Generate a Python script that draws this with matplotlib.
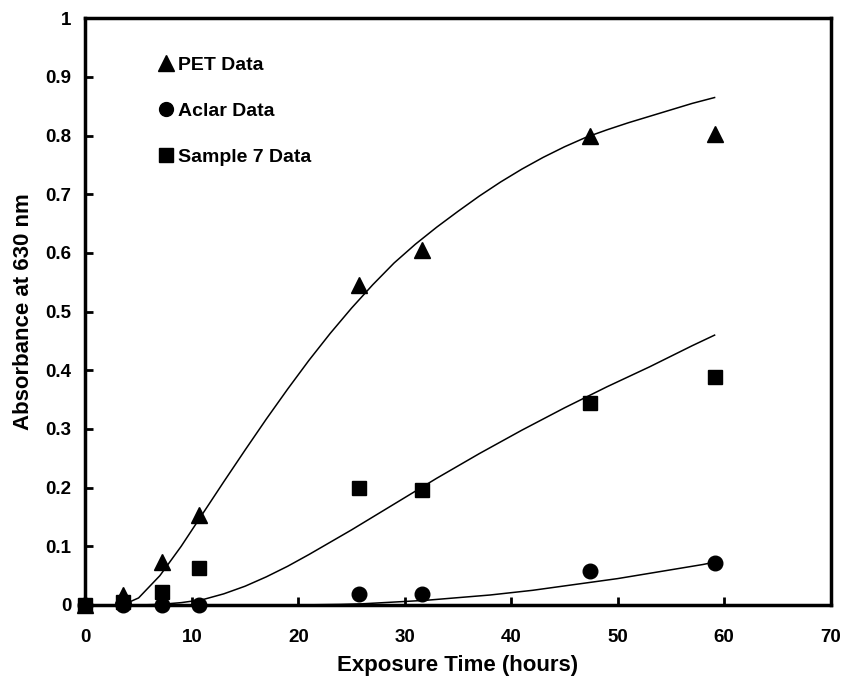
import matplotlib.pyplot as plt
import numpy as np

plt.rcParams['font.family'] = ['Liberation Sans', 'DejaVu Sans']
plt.rcParams['font.weight'] = 'bold'

# measured data (exposure time in hours, absorbance at 630 nm)
t = [0, 3.5, 7.2, 10.7, 25.7, 31.6, 47.4, 59.1]
pet = [0, 0.017, 0.073, 0.153, 0.545, 0.605, 0.80, 0.802]
aclar = [0, 0, 0, 0, 0.019, 0.018, 0.058, 0.071]
sample7 = [0, 0.005, 0.022, 0.063, 0.199, 0.196, 0.344, 0.388]

# fitted curves
pet_fit_t = [3.5, 5, 7, 9, 11, 13, 15, 17, 19, 21, 23, 25, 27, 29, 31, 33, 35, 37, 39,
             41, 43, 45, 47, 49, 51, 53, 55, 57, 59.1]
pet_fit = [0, 0.012, 0.050, 0.100, 0.155, 0.210, 0.264, 0.317, 0.368, 0.417, 0.463, 0.506,
           0.546, 0.583, 0.615, 0.644, 0.671, 0.697, 0.721, 0.743, 0.763, 0.781, 0.797,
           0.810, 0.822, 0.833, 0.844, 0.855, 0.865]
s7_fit_t = [5, 7, 9, 11, 13, 15, 17, 19, 21, 23, 25, 27, 29, 31, 33, 35, 37, 39, 41, 43,
            45, 47, 49, 51, 53, 55, 57, 59.1]
s7_fit = [0, 0.001, 0.004, 0.009, 0.019, 0.032, 0.048, 0.066, 0.086, 0.107, 0.128, 0.150,
          0.172, 0.194, 0.216, 0.237, 0.258, 0.278, 0.298, 0.317, 0.336, 0.354, 0.372,
          0.389, 0.406, 0.424, 0.442, 0.460]
aclar_fit_t = [20, 22, 24, 26, 28, 30, 32, 34, 36, 38, 40, 42, 44, 46, 48, 50, 52, 54, 56, 58, 59.1]
aclar_fit = [0, 0.0005, 0.001, 0.002, 0.004, 0.006, 0.008, 0.011, 0.014, 0.017, 0.021, 0.025,
             0.030, 0.035, 0.040, 0.045, 0.051, 0.057, 0.063, 0.069, 0.073]

fig = plt.figure(figsize=(8.45, 6.79), dpi=100)
ax = fig.add_axes([0.101, 0.109, 0.882, 0.864])

ax.plot(pet_fit_t, pet_fit, color='black', lw=1.1)
ax.plot(s7_fit_t, s7_fit, color='black', lw=1.1)
ax.plot(aclar_fit_t, aclar_fit, color='black', lw=1.1)

ax.plot(t, pet, '^', color='black', ms=12, ls='none', label='PET Data', clip_on=False, zorder=5)
ax.plot(t, aclar, 'o', color='black', ms=10.5, ls='none', label='Aclar Data', clip_on=False, zorder=5)
ax.plot(t, sample7, 's', color='black', ms=10.5, ls='none', label='Sample 7 Data', clip_on=False, zorder=5)

ax.set_xlim(0, 70)
ax.set_ylim(0, 1)
ax.set_xticks(np.arange(0, 71, 10))
ax.set_yticks(np.arange(0, 1.01, 0.1))
ax.set_yticklabels(['0', '0.1', '0.2', '0.3', '0.4', '0.5', '0.6', '0.7', '0.8', '0.9', '1'])
ax.tick_params(direction='in', length=6, width=2, labelsize=13.5)
ax.tick_params(axis='x', pad=17)
ax.tick_params(axis='y', pad=10)
for s in ax.spines.values():
    s.set_linewidth(2.5)

ax.set_xlabel('Exposure Time (hours)', fontsize=16, fontweight='bold', labelpad=7)
ax.set_ylabel('Absorbance at 630 nm', fontsize=16, fontweight='bold', labelpad=8)

ax.legend(loc='upper left', bbox_to_anchor=(0.0905, 0.948), frameon=False, fontsize=14,
          handlelength=0.6, handletextpad=0.3, labelspacing=1.45, markerscale=0.95,
          borderaxespad=0)

plt.savefig('out.png', dpi=100)
